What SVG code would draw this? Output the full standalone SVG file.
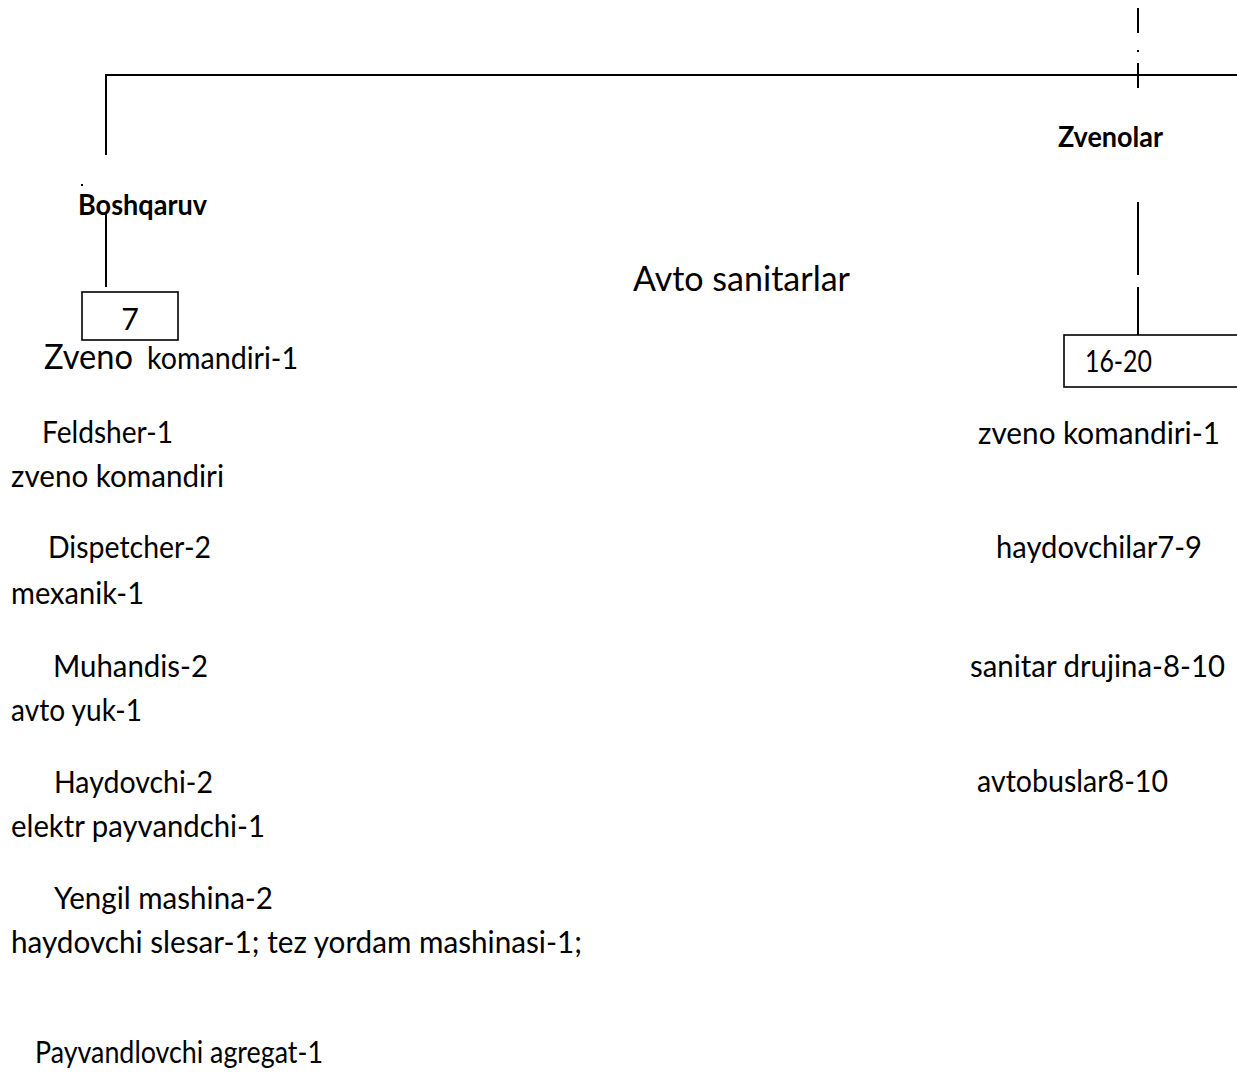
<svg xmlns="http://www.w3.org/2000/svg" width="1237" height="1073" viewBox="0 0 1237 1073">
  <style>
    .t { font-family: Lato, "Open Sans", "Liberation Sans", sans-serif; font-size: 30.5px; fill: #000; }
    .big { font-size: 35px; }
    .b { font-weight: bold; font-size: 28px; }
    .ln { stroke: #000; stroke-width: 2; fill: none; }
    .box { stroke: #000; stroke-width: 1.6; fill: #fff; }
  </style>
  <rect width="1237" height="1073" fill="#fff"/>

  <!-- connectors -->
  <g id="connectors">
    <path class="ln" d="M105 75 H1237"/>
    <path class="ln" d="M106 75 V155"/>
    <rect x="81" y="184" width="2" height="2" fill="#000"/>
    <path class="ln" d="M106 213 V287"/>
    <path class="ln" d="M1138 8 V33"/>
    <rect x="1137" y="50" width="2" height="2" fill="#000"/>
    <path class="ln" d="M1138 63 V88"/>
    <path class="ln" d="M1138 202 V275"/>
    <path class="ln" d="M1138 287 V335"/>
  </g>

  <!-- title -->
  <g id="title">
    <text class="t big" x="633" y="291" textLength="217" lengthAdjust="spacingAndGlyphs">Avto sanitarlar</text>
  </g>

  <!-- management branch -->
  <g id="boshqaruv">
    <text class="t b" x="78" y="215" textLength="129" lengthAdjust="spacingAndGlyphs">Boshqaruv</text>
  </g>
  <g id="boshqaruv-box">
    <rect class="box" x="82" y="292" width="96" height="48"/>
    <text class="t" x="130" y="330" text-anchor="middle">7</text>
  </g>
  <g id="boshqaruv-staff">
    <text class="t" y="369"><tspan class="big" x="44" textLength="89" lengthAdjust="spacingAndGlyphs">Zveno</tspan><tspan x="147" textLength="151" lengthAdjust="spacingAndGlyphs">komandiri-1</tspan></text>
    <text class="t" x="42" y="443" textLength="131" lengthAdjust="spacingAndGlyphs">Feldsher-1</text>
    <text class="t" x="11" y="487" textLength="213" lengthAdjust="spacingAndGlyphs">zveno komandiri</text>
    <text class="t" x="48" y="558" textLength="163" lengthAdjust="spacingAndGlyphs">Dispetcher-2</text>
    <text class="t" x="11" y="604" textLength="133" lengthAdjust="spacingAndGlyphs">mexanik-1</text>
    <text class="t" x="53" y="677" textLength="155" lengthAdjust="spacingAndGlyphs">Muhandis-2</text>
    <text class="t" x="11" y="721" textLength="131" lengthAdjust="spacingAndGlyphs">avto yuk-1</text>
    <text class="t" x="54" y="793" textLength="159" lengthAdjust="spacingAndGlyphs">Haydovchi-2</text>
    <text class="t" x="11" y="837" textLength="254" lengthAdjust="spacingAndGlyphs">elektr payvandchi-1</text>
    <text class="t" x="54" y="909" textLength="219" lengthAdjust="spacingAndGlyphs">Yengil mashina-2</text>
    <text class="t" x="11" y="953" textLength="571" lengthAdjust="spacingAndGlyphs">haydovchi slesar-1; tez yordam mashinasi-1;</text>
    <text class="t" x="35" y="1063" textLength="288" lengthAdjust="spacingAndGlyphs">Payvandlovchi agregat-1</text>
  </g>

  <!-- unit branch -->
  <g id="zvenolar">
    <text class="t b" x="1058" y="147" textLength="105" lengthAdjust="spacingAndGlyphs">Zvenolar</text>
  </g>
  <g id="zvenolar-box">
    <rect class="box" x="1064" y="335" width="200" height="52"/>
    <text class="t" x="1085" y="372" textLength="67" lengthAdjust="spacingAndGlyphs">16-20</text>
  </g>
  <g id="zvenolar-staff">
    <text class="t" x="978" y="444" textLength="242" lengthAdjust="spacingAndGlyphs">zveno komandiri-1</text>
    <text class="t" x="996" y="558" textLength="206" lengthAdjust="spacingAndGlyphs">haydovchilar7-9</text>
    <text class="t" x="970" y="677" textLength="255" lengthAdjust="spacingAndGlyphs">sanitar drujina-8-10</text>
    <text class="t" x="977" y="792" textLength="191" lengthAdjust="spacingAndGlyphs">avtobuslar8-10</text>
  </g>
</svg>
